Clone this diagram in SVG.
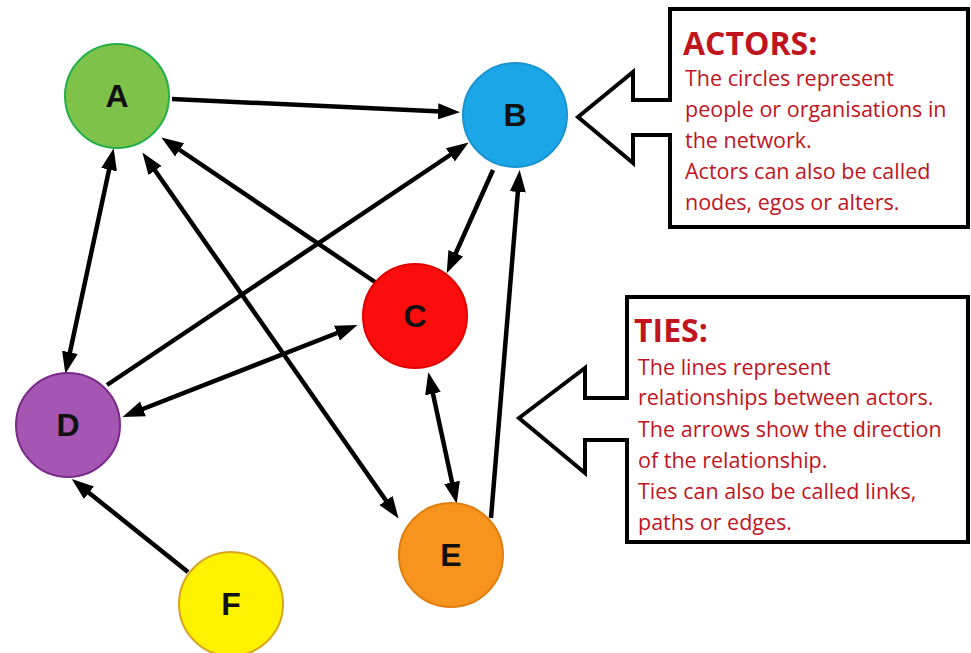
<svg xmlns="http://www.w3.org/2000/svg" width="971" height="653" viewBox="0 0 971 653">
<style>
.node circle{stroke-width:2}
.lbl{font-family:"Liberation Sans",Arial,sans-serif;font-weight:bold;font-size:32px;fill:#111;text-anchor:middle}
.edge{stroke:#000;stroke-width:4.5;fill:none}
.box{fill:#fff;stroke:#000;stroke-width:4;stroke-linejoin:miter}
.title{font-family:"Open Sans","Liberation Sans",sans-serif;font-weight:bold;font-size:32px;fill:#c0141e}
.body{font-family:"Open Sans","Liberation Sans",sans-serif;font-size:21.5px;fill:#c0141e}
</style>
<defs>
<marker id="ah" markerUnits="userSpaceOnUse" markerWidth="22" markerHeight="18" refX="14" refY="8" orient="auto-start-reverse" viewBox="0 0 22 16">
<path d="M0,0 L22,8 L0,16 z" fill="#000"/>
</marker>
</defs>
<rect width="971" height="653" fill="#fff"/>
<g id="connectors">
<line class="edge" x1="172" y1="99" x2="452" y2="112" marker-end="url(#ah)"/>
<line class="edge" x1="375" y1="282" x2="168" y2="142" marker-end="url(#ah)"/>
<line class="edge" x1="147" y1="159" x2="394" y2="512" marker-start="url(#ah)" marker-end="url(#ah)"/>
<line class="edge" x1="112" y1="156" x2="67" y2="366" marker-start="url(#ah)" marker-end="url(#ah)"/>
<line class="edge" x1="107" y1="385" x2="462" y2="147" marker-end="url(#ah)"/>
<line class="edge" x1="130" y1="414" x2="350" y2="328" marker-start="url(#ah)" marker-end="url(#ah)"/>
<line class="edge" x1="493" y1="170" x2="450" y2="266" marker-end="url(#ah)"/>
<line class="edge" x1="430" y1="380" x2="455" y2="496" marker-start="url(#ah)" marker-end="url(#ah)"/>
<line class="edge" x1="491" y1="518" x2="519" y2="178" marker-end="url(#ah)"/>
<line class="edge" x1="188" y1="572" x2="78" y2="484" marker-end="url(#ah)"/>
</g>
<g id="A" class="node"><circle cx="117" cy="96" r="52" fill="#7fc24a" stroke="#22b04a"/><text class="lbl" x="117" y="107">A</text></g>
<g id="B" class="node"><circle cx="515" cy="115" r="52" fill="#1ba6e8" stroke="#1a93d0"/><text class="lbl" x="515" y="126">B</text></g>
<g id="C" class="node"><circle cx="415" cy="316" r="52" fill="#fb0d0d" stroke="#e00000"/><text class="lbl" x="415" y="327">C</text></g>
<g id="D" class="node"><circle cx="68" cy="425" r="52" fill="#a555b2" stroke="#7a2a8a"/><text class="lbl" x="68" y="436">D</text></g>
<g id="E" class="node"><circle cx="451" cy="555" r="52" fill="#f7941d" stroke="#e07f10"/><text class="lbl" x="451" y="566">E</text></g>
<g id="F" class="node"><circle cx="231" cy="604" r="52" fill="#fff200" stroke="#d9a520"/><text class="lbl" x="231" y="615">F</text></g>
<g id="actors">
<path class="box" d="M670,9 H968 V227 H670 V135 H633 V163 L578,117 L633,72 V100 H670 Z"/>
<text class="title" x="683" y="55">ACTORS:</text>
<text class="body" x="685" y="86">The circles represent</text>
<text class="body" x="685" y="117">people or organisations in</text>
<text class="body" x="685" y="148">the network.</text>
<text class="body" x="685" y="179">Actors can also be called</text>
<text class="body" x="685" y="210">nodes, egos or alters.</text>
</g>
<g id="ties">
<path class="box" d="M627,297 H968 V542 H627 V440 H585 V473 L519,418 L585,368 V398 H627 Z"/>
<text class="title" x="634" y="342">TIES:</text>
<text class="body" x="638" y="375">The lines represent</text>
<text class="body" x="638" y="405">relationships between actors.</text>
<text class="body" x="638" y="437">The arrows show the direction</text>
<text class="body" x="638" y="468">of the relationship.</text>
<text class="body" x="638" y="499">Ties can also be called links,</text>
<text class="body" x="638" y="530">paths or edges.</text>
</g>
</svg>
